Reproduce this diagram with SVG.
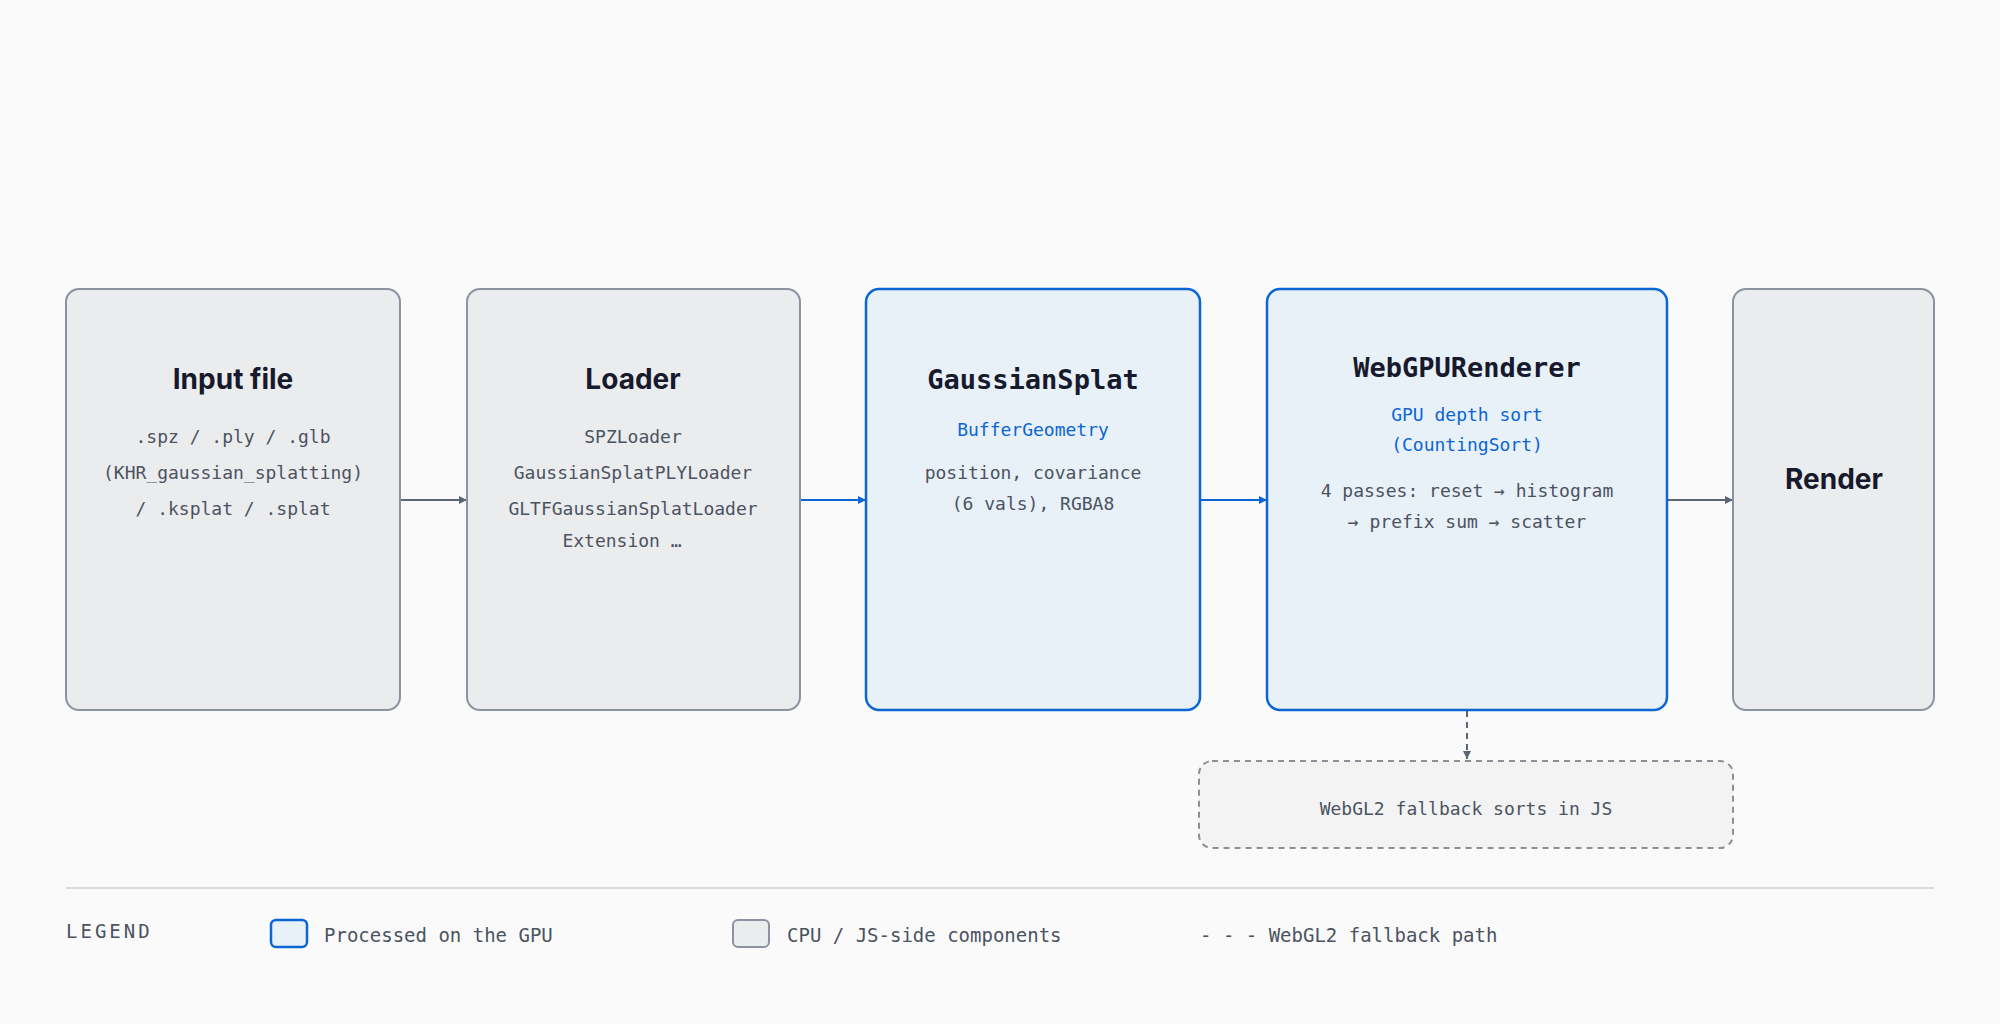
<svg xmlns="http://www.w3.org/2000/svg" width="2000" height="1024" viewBox="0 0 2000 1024">
<defs>
<style>
.cpu{fill:#ebecee;stroke:#8b93a1;stroke-width:2}
.gpu{fill:#e8f0f8;stroke:#0b66d4;stroke-width:2.5}
.t{font-family:Inter,"Liberation Sans",sans-serif;font-weight:700;font-size:28px;fill:#161a2c;text-anchor:middle}
.tm{font-family:"DejaVu Sans Mono","Liberation Mono",monospace;font-weight:700;font-size:27px;fill:#161a2c;text-anchor:middle}
.s{font-family:"DejaVu Sans Mono","Liberation Mono",monospace;font-size:18px;fill:#4b5361;text-anchor:middle}
.b{fill:#0b66d4}
.lg{font-family:"DejaVu Sans Mono","Liberation Mono",monospace;font-size:19px;fill:#4b5361}
</style>
<marker id="ag" viewBox="0 0 10 10" refX="10" refY="5" markerWidth="8" markerHeight="8" markerUnits="userSpaceOnUse" orient="auto"><path d="M0,0L10,5L0,10z" fill="#5c6676"/></marker>
<marker id="ab" viewBox="0 0 10 10" refX="10" refY="5" markerWidth="8" markerHeight="8" markerUnits="userSpaceOnUse" orient="auto"><path d="M0,0L10,5L0,10z" fill="#0b66d4"/></marker>
</defs>
<rect width="2000" height="1024" fill="#fafafa"/>
<g id="connectors">
<line x1="400" y1="500" x2="467" y2="500" stroke="#5c6676" stroke-width="2" marker-end="url(#ag)"/>
<line x1="800" y1="500" x2="866" y2="500" stroke="#0b66d4" stroke-width="2" marker-end="url(#ab)"/>
<line x1="1200" y1="500" x2="1267" y2="500" stroke="#0b66d4" stroke-width="2" marker-end="url(#ab)"/>
<line x1="1667" y1="500" x2="1733" y2="500" stroke="#5c6676" stroke-width="2" marker-end="url(#ag)"/>
<line x1="1467" y1="711" x2="1467" y2="759" stroke="#5c6676" stroke-width="2" stroke-dasharray="6 5" marker-end="url(#ag)"/>
</g>
<g id="input">
<rect class="cpu" x="66" y="289" width="334" height="421" rx="13"/>
<text class="t" x="233" y="389">Input file</text>
<text class="s" x="233" y="443">.spz / .ply / .glb</text>
<text class="s" x="233" y="479" font-size="16">(KHR_gaussian_splatting)</text>
<text class="s" x="233" y="515">/ .ksplat / .splat</text>
</g>
<g id="loader">
<rect class="cpu" x="467" y="289" width="333" height="421" rx="13"/>
<text class="t" x="633" y="389">Loader</text>
<text class="s" x="633" y="443">SPZLoader</text>
<text class="s" x="633" y="479">GaussianSplatPLYLoader</text>
<text class="s" x="633" y="515">GLTFGaussianSplatLoader</text>
<text class="s" x="622" y="547">Extension …</text>
</g>
<g id="gaussiansplat">
<rect class="gpu" x="866" y="289" width="334" height="421" rx="13"/>
<text class="tm" x="1033" y="389">GaussianSplat</text>
<text class="s b" x="1033" y="436">BufferGeometry</text>
<text class="s" x="1033" y="479">position, covariance</text>
<text class="s" x="1033" y="510">(6 vals), RGBA8</text>
</g>
<g id="webgpurenderer">
<rect class="gpu" x="1267" y="289" width="400" height="421" rx="13"/>
<text class="tm" x="1467" y="377" font-size="26">WebGPURenderer</text>
<text class="s b" x="1467" y="421">GPU depth sort</text>
<text class="s b" x="1467" y="451">(CountingSort)</text>
<text class="s" x="1467" y="497">4 passes: reset → histogram</text>
<text class="s" x="1467" y="528">→ prefix sum → scatter</text>
</g>
<g id="render">
<rect class="cpu" x="1733" y="289" width="201" height="421" rx="13" fill="#f1f1f2"/>
<text class="t" x="1834" y="489">Render</text>
</g>
<g id="fallback">
<rect x="1199" y="761" width="534" height="87" rx="13" fill="#f3f3f3" stroke="#8b8f96" stroke-width="2" stroke-dasharray="6 5"/>
<text class="s" x="1466" y="815">WebGL2 fallback sorts in JS</text>
</g>
<g id="legend">
<line x1="66" y1="888" x2="1934" y2="888" stroke="#dcdcdc" stroke-width="2"/>
<text class="lg" x="66" y="938" letter-spacing="3">LEGEND</text>
<rect class="gpu" x="271" y="920" width="36" height="27" rx="5"/>
<text class="lg" x="324" y="942">Processed on the GPU</text>
<rect class="cpu" x="733" y="920" width="36" height="27" rx="5"/>
<text class="lg" x="787" y="942">CPU / JS-side components</text>
<text class="lg" x="1200" y="942">- - - WebGL2 fallback path</text>
</g>
</svg>
